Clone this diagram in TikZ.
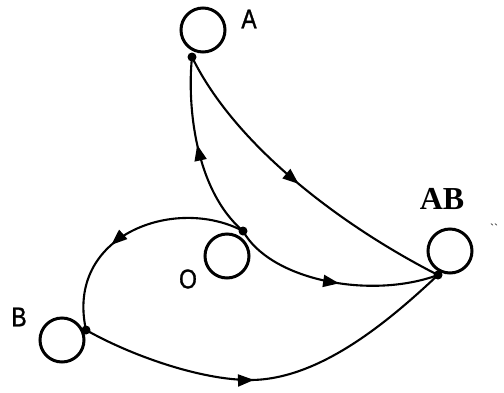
\documentclass[tikz,border=0pt]{standalone}
\usepackage{fontspec}
\setmainfont{Liberation Sans}
\newfontfamily\lblfont[FakeBold=1.2]{Liberation Sans}
\newfontfamily\abfont{Liberation Serif}
\usetikzlibrary{arrows.meta,decorations.markings}
\tikzset{
  state/.style={circle,draw,line width=3pt,minimum size=44pt,inner sep=0pt},
  dot/.style={circle,fill,inner sep=0pt,minimum size=9pt},
  lbl/.style={font=\lblfont\fontsize{27}{27}\selectfont,inner sep=0pt,xscale=0.85},
  edge/.style={line width=2.1pt},
  arr/.style={postaction={decorate},decoration={markings,mark=at position #1 with {\arrow{Triangle[length=16pt,width=12pt]}}}}
}
\begin{document}
\begin{tikzpicture}[x=1pt,y=-1pt]
\useasboundingbox (0,0) rectangle (504,392);
% states
\node[state] (A) at (203,30) {};
\node[state] (O) at (227,256) {};
\node[state] (AB) at (450,251) {};
\node[state] (B) at (62,340) {};
% dots
\node[dot] (dA) at (192,57) {};
\node[dot] (dO) at (243,231) {};
\node[dot] (dAB) at (438,275) {};
\node[dot] (dB) at (86,330) {};
% labels
\node[lbl] (lA) at (249,19) {A};
\node[lbl] (lO) at (188,279) {O};
\node[lbl] (lB) at (19,317) {B};
\node[font=\abfont\bfseries\fontsize{32}{32}\selectfont,inner sep=0pt] (lAB) at (442,199) {AB};
\node[font=\abfont\fontsize{12}{12}\selectfont,inner sep=0pt] (tick) at (494,228) {``};
% edges
\draw[edge,arr=0.53] (dO.center) .. controls (195,190) and (187,105) .. (dA.center);
\draw[edge,arr=0.5] (dA.center) .. controls (235,145) and (340,225) .. (dAB.center);
\draw[edge,arr=0.53] (dO.center) .. controls (270,280) and (370,300) .. (dAB.center);
\draw[edge,arr=0.6] (dO.center) .. controls (175,195) and (65,235) .. (dB.center);
\draw[edge,arr=0.45] (dB.center) .. controls (130,355) and (200,380) .. (250,380) .. controls (320,380) and (390,320) .. (dAB.center);
\end{tikzpicture}
\end{document}
